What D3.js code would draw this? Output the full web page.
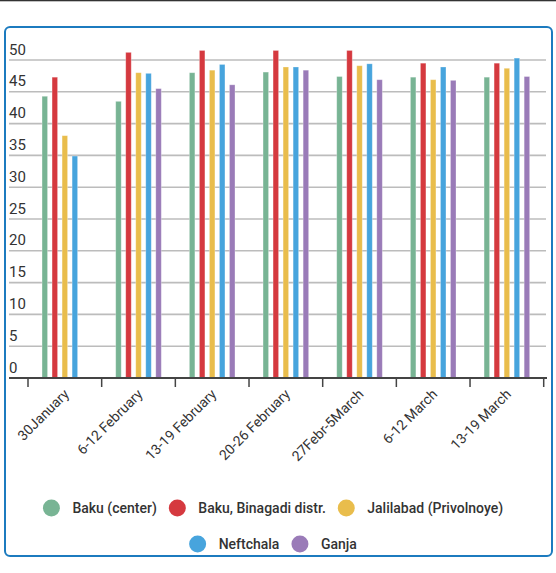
<!DOCTYPE html>
<html>
<head>
<meta charset="utf-8">
<script src="https://cdn.jsdelivr.net/npm/d3@7"></script>
<style>
  html, body { margin: 0; padding: 0; background: #fff; }
  svg { display: block; font-family: Roboto, "Noto Sans", sans-serif; }
</style>
</head>
<body>
<div id="chart"></div>
<script>
// data
const categories = ["30January", "6-12 February", "13-19 February", "20-26 February",
  "27Febr-5March", "6-12 March", "13-19 March"];
const seriesNames = ["Baku (center)", "Baku, Binagadi distr.", "Jalilabad (Privolnoye)", "Neftchala", "Ganja"];
const seriesColors = ["#78b494", "#d5393f", "#e9bd4c", "#47a4dd", "#9a7bb8"];

const bakuCenter = [44.3, 43.5, 48.0, 48.1, 47.4, 47.3, 47.3];
const bakuBinagadi = [47.3, 51.2, 51.5, 51.5, 51.5, 49.5, 49.5];
const jalilabad = [38.1, 48.0, 48.4, 48.9, 49.1, 46.9, 48.7];
const neftchala = [34.9, 47.9, 49.3, 48.9, 49.4, 48.9, 50.3];
const ganja = [null, 45.5, 46.1, 48.4, 46.9, 46.8, 47.4];

const yTicks = [0, 5, 10, 15, 20, 25, 30, 35, 40, 45, 50];

const series = [bakuCenter, bakuBinagadi, jalilabad, neftchala, ganja];

const W = 556, H = 573;
const plot = { left: 28, right: 543.7, top: 60, bottom: 378 };

const svg = d3.select("#chart").append("svg")
  .attr("width", W)
  .attr("height", H);

// thin dark strip at the very top
svg.append("rect")
  .attr("x", 0).attr("y", 0)
  .attr("width", W).attr("height", 1.3)
  .attr("fill", "#333");

// rounded frame
svg.append("rect")
  .attr("x", 5).attr("y", 27)
  .attr("width", 547).attr("height", 529)
  .attr("rx", 5).attr("ry", 5)
  .attr("fill", "none")
  .attr("stroke", "#1c7bbf")
  .attr("stroke-width", 2);

const y = d3.scaleLinear().domain([0, 50]).range([plot.bottom, plot.top]);

const x0 = d3.scaleBand()
  .domain(categories)
  .range([plot.left, plot.right])
  .paddingInner(0.32)
  .paddingOuter(0.16);

const x1 = d3.scaleBand()
  .domain(seriesNames)
  .range([0, x0.bandwidth()])
  .paddingInner(0.45)
  .paddingOuter(0.225);

// gridlines + y labels
const grid = svg.append("g").attr("class", "grid");
grid.selectAll("line")
  .data(yTicks.filter(d => d > 0))
  .join("line")
  .attr("x1", 9).attr("x2", 546)
  .attr("y1", d => y(d)).attr("y2", d => y(d))
  .attr("stroke", "#bcbcbc")
  .attr("stroke-width", 1.6);

grid.selectAll("text")
  .data(yTicks)
  .join("text")
  .attr("x", 9)
  .attr("y", d => y(d) - 5.5)
  .attr("font-size", 15)
  .attr("fill", "#333")
  .text(d => d);

// bars
const groups = svg.append("g").attr("class", "bars")
  .selectAll("g")
  .data(categories)
  .join("g")
  .attr("transform", d => `translate(${x0(d)},0)`);

groups.selectAll("rect")
  .data((c, i) => series.map((s, k) => ({ name: seriesNames[k], color: seriesColors[k], value: s[i] }))
    .filter(d => d.value != null))
  .join("rect")
  .attr("x", d => x1(d.name))
  .attr("width", x1.bandwidth())
  .attr("y", d => y(d.value))
  .attr("height", d => y(0) - y(d.value))
  .attr("fill", d => d.color)
  .attr("stroke", "#fff")
  .attr("stroke-opacity", 0.35)
  .attr("stroke-width", 0.8);

// x axis: line, ticks on band boundaries, rotated labels
const axis = svg.append("g").attr("class", "x-axis");
axis.append("line")
  .attr("x1", 9).attr("x2", 547)
  .attr("y1", y(0)).attr("y2", y(0))
  .attr("stroke", "#444")
  .attr("stroke-width", 2);

const step = x0.step();
const boundaries = categories.map(c => x0(c) - step * x0.paddingInner() / 2)
  .concat([plot.right]);

axis.selectAll("line.tick")
  .data(boundaries)
  .join("line")
  .attr("class", "tick")
  .attr("x1", d => d).attr("x2", d => d)
  .attr("y1", y(0)).attr("y2", y(0) + 9)
  .attr("stroke", "#444")
  .attr("stroke-width", 1.5);

axis.selectAll("text")
  .data(categories)
  .join("text")
  .attr("text-anchor", "end")
  .attr("font-size", 14)
  .attr("fill", "#333")
  .attr("transform", d => `translate(${x0(d) + x0.bandwidth() / 2 + 5},${y(0) + 17}) rotate(-45)`)
  .text(d => d);

// legend, two centred rows
const legendRows = [[0, 1, 2], [3, 4]];
const legendY = [508, 544];
const legend = svg.append("g").attr("class", "legend");

legendRows.forEach((row, r) => {
  const g = legend.append("g");
  let cx = 0;
  row.forEach((k, j) => {
    if (j > 0) cx += 20.5;
    const item = g.append("g").attr("transform", `translate(${cx},0)`);
    item.append("circle")
      .attr("cx", 0).attr("cy", 0).attr("r", 8.5)
      .attr("fill", seriesColors[k]);
    const t = item.append("text")
      .attr("x", 21).attr("y", 5)
      .attr("font-size", 14)
      .attr("font-weight", 500)
      .attr("fill", "#333")
      .text(seriesNames[k]);
    cx += 21 + t.node().getComputedTextLength();
    cx += j < row.length - 1 ? 0 : 0;
  });
  const total = 8.5 + cx;
  g.attr("transform", `translate(${273 - total / 2 + 8.5},${legendY[r]})`);
});
</script>
</body>
</html>
